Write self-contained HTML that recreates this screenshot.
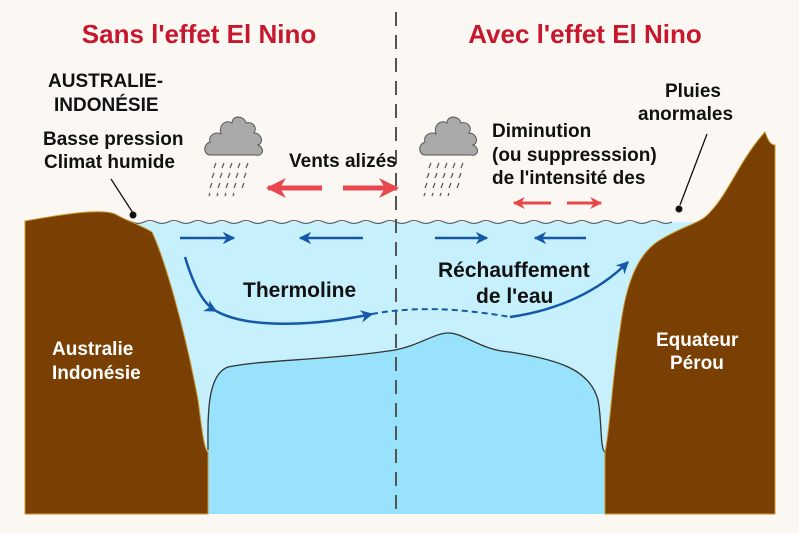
<!DOCTYPE html>
<html><head><meta charset="utf-8"><style>
html,body{margin:0;padding:0;background:#fbf8f4;}
svg{display:block;}
text{font-family:"Liberation Sans",sans-serif;font-weight:bold;fill:#111;}
</style></head><body>
<svg width="799" height="533" viewBox="0 0 799 533" xmlns="http://www.w3.org/2000/svg">
<defs>
<marker id="bh" viewBox="0 0 10 10" refX="9" refY="5" markerWidth="5" markerHeight="5" orient="auto"><path d="M0,0 L10,5 L0,10 L3,5 z" fill="#1558a8"/></marker>
<marker id="rh" viewBox="0 0 10 10" refX="9" refY="5" markerWidth="4" markerHeight="4" orient="auto"><path d="M0,0 L10,5 L0,10 L3,5 z" fill="#e8474e"/></marker>
<g id="cloud">
<path d="M-28,18 C-34,18 -36,8 -28,5 C-30,-2 -22,-6 -17,-3 C-20,-12 -12,-18 -6,-14 C-6,-22 6,-22 8,-14 C14,-16 20,-10 16,-4 C24,-4 26,6 20,8 C28,12 24,20 18,18 Z" fill="#a9a9aa" stroke="#555" stroke-width="1"/>
<g stroke="#555" stroke-width="1.2">
<line x1="-22" y1="26" x2="-24" y2="31"/><line x1="-14" y1="26" x2="-16" y2="31"/><line x1="-6" y1="26" x2="-8" y2="31"/><line x1="2" y1="26" x2="0" y2="31"/><line x1="10" y1="26" x2="8" y2="31"/>
<line x1="-24" y1="36" x2="-26" y2="41"/><line x1="-16" y1="36" x2="-18" y2="41"/><line x1="-8" y1="36" x2="-10" y2="41"/><line x1="0" y1="36" x2="-2" y2="41"/><line x1="8" y1="36" x2="6" y2="41"/>
<line x1="-26" y1="46" x2="-28" y2="51"/><line x1="-18" y1="46" x2="-20" y2="51"/><line x1="-10" y1="46" x2="-12" y2="51"/><line x1="-2" y1="46" x2="-4" y2="51"/><line x1="6" y1="46" x2="4" y2="51"/>
<line x1="-28" y1="56" x2="-29" y2="59"/><line x1="-20" y1="56" x2="-21" y2="59"/><line x1="-12" y1="56" x2="-13" y2="59"/><line x1="-4" y1="56" x2="-5" y2="59"/>
</g></g>
</defs>
<path d="M110,222 L700,222 L700,514 L110,514 Z" fill="#c6f1fc"/>
<path d="M208,450 C208,420 206,375 228,367 C260,360 330,360 395,350 C420,345 435,333 448,333 C465,333 480,350 510,352 C560,360 590,370 598,400 C602,420 600,450 605,452 L605,514 L208,514 Z" fill="#98e2fb"/>
<path d="M208,450 C208,420 206,375 228,367 C260,360 330,360 395,350 C420,345 435,333 448,333 C465,333 480,350 510,352 C560,360 590,370 598,400 C602,420 600,450 605,452" fill="none" stroke="#333" stroke-width="1.3"/>
<path d="M120,222 q6,-3 12,0 t12,0 t12,0 t12,0 t12,0 t12,0 t12,0 t12,0 t12,0 t12,0 t12,0 t12,0 t12,0 t12,0 t12,0 t12,0 t12,0 t12,0 t12,0 t12,0 t12,0 t12,0 t12,0 t12,0 t12,0 t12,0 t12,0 t12,0 t12,0 t12,0 t12,0 t12,0 t12,0 t12,0 t12,0 t12,0 t12,0 t12,0 t12,0 t12,0 t12,0 t12,0 t12,0 t12,0 t12,0 t12,0" fill="none" stroke="#555" stroke-width="1"/>
<path d="M25,221 C60,215 100,208 115,214 C125,220 140,225 152,232 C165,260 185,330 198,400 C202,430 204,450 208,452 L208,514 L25,514 Z" fill="#7a3f02" stroke="#c9962a" stroke-width="1"/>
<path d="M605,514 L605,452 C610,430 612,380 620,330 C625,290 635,255 660,240 C690,222 700,225 712,210 C730,190 740,160 765,132 C768,140 770,145 775,145 L775,514 Z" fill="#7a3f02" stroke="#c9962a" stroke-width="1"/>
<line x1="396" y1="12" x2="396" y2="514" stroke="#555" stroke-width="2" stroke-dasharray="14,9"/>
<text x="199" y="43" text-anchor="middle" font-size="26" style="fill:#c8172c">Sans l'effet El Nino</text>
<text x="585" y="43" text-anchor="middle" font-size="26" style="fill:#c8172c">Avec l'effet El Nino</text>
<text x="48" y="87" font-size="19">AUSTRALIE-</text>
<text x="54" y="111" font-size="19">INDONÉSIE</text>
<text x="43" y="145" font-size="19">Basse pression</text>
<text x="44" y="168" font-size="19">Climat humide</text>
<line x1="111" y1="179" x2="133" y2="213" stroke="#111" stroke-width="1.3"/><circle cx="133" cy="215" r="3.5" fill="#111"/>
<text x="665" y="97" font-size="19">Pluies</text>
<text x="638" y="120" font-size="19">anormales</text>
<line x1="707" y1="134" x2="680" y2="205" stroke="#111" stroke-width="1.3"/><circle cx="679" cy="209" r="3.5" fill="#111"/>
<text x="289" y="167" font-size="19">Vents alizés</text>
<text x="492" y="137" font-size="19">Diminution</text>
<text x="492" y="161" font-size="19">(ou suppresssion)</text>
<text x="492" y="184" font-size="19">de l'intensité des</text>
<use href="#cloud" x="238" y="137"/>
<use href="#cloud" x="453" y="137"/>
<line x1="322" y1="188" x2="268" y2="188" stroke="#e8474e" stroke-width="5" marker-end="url(#rh)"/>
<line x1="343" y1="188" x2="397" y2="188" stroke="#e8474e" stroke-width="5" marker-end="url(#rh)"/>
<line x1="551" y1="203" x2="514" y2="203" stroke="#e8474e" stroke-width="3" marker-end="url(#rh)"/>
<line x1="567" y1="203" x2="601" y2="203" stroke="#e8474e" stroke-width="3" marker-end="url(#rh)"/>
<line x1="180" y1="238" x2="234" y2="238" stroke="#1558a8" stroke-width="2.5" marker-end="url(#bh)"/>
<line x1="363" y1="238" x2="300" y2="238" stroke="#1558a8" stroke-width="2.5" marker-end="url(#bh)"/>
<line x1="435" y1="238" x2="487" y2="238" stroke="#1558a8" stroke-width="2.5" marker-end="url(#bh)"/>
<line x1="586" y1="238" x2="535" y2="238" stroke="#1558a8" stroke-width="2.5" marker-end="url(#bh)"/>
<path d="M185,257 C195,290 205,305 216,311" fill="none" stroke="#1558a8" stroke-width="2.5" marker-end="url(#bh)"/>
<path d="M216,311 C250,330 320,325 372,314" fill="none" stroke="#1558a8" stroke-width="2.5" marker-end="url(#bh)"/>
<path d="M372,314 C420,305 470,310 510,317" fill="none" stroke="#1558a8" stroke-width="2" stroke-dasharray="6,4"/>
<path d="M510,317 C560,310 600,290 628,262" fill="none" stroke="#1558a8" stroke-width="2.5" marker-end="url(#bh)"/>
<text x="243" y="297" font-size="21">Thermoline</text>
<text x="438" y="277" font-size="21">Réchauffement</text>
<text x="476" y="303" font-size="21">de l'eau</text>
<text x="52" y="355" font-size="19" style="fill:#fff">Australie</text>
<text x="52" y="379" font-size="19" style="fill:#fff">Indonésie</text>
<text x="656" y="346" font-size="19" style="fill:#fff">Equateur</text>
<text x="670" y="369" font-size="19" style="fill:#fff">Pérou</text>
</svg>
</body></html>
